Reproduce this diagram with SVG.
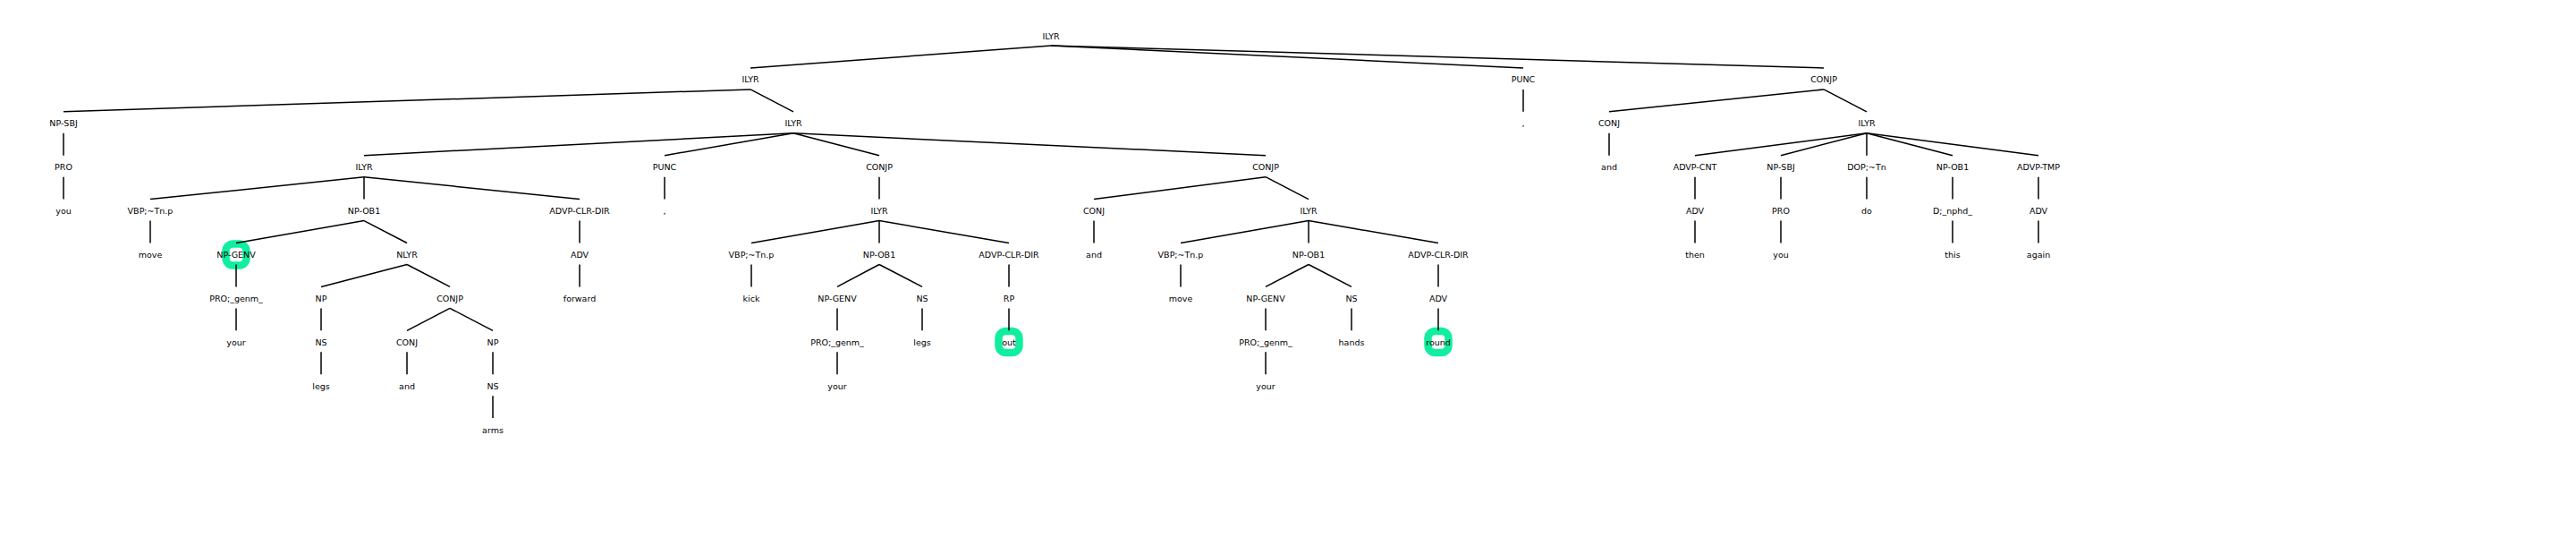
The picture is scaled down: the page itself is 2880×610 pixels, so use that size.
<svg xmlns="http://www.w3.org/2000/svg" width="2880" height="610" viewBox="0 0 2880 610">
<style>
text{font-family:"DejaVu Sans","Liberation Sans",sans-serif;font-size:9.5px;text-anchor:middle;fill:#000}
.e line{stroke:#000;stroke-width:1.5}
.hl{fill:none;stroke:#12eea0;stroke-width:8.5}
</style>
<rect width="2880" height="610" fill="#fff"/>
<g id="highlights">
<rect class="hl" x="252.5" y="272.5" width="23" height="24" rx="8"/>
<rect class="hl" x="1116.5" y="370" width="23" height="24" rx="8"/>
<rect class="hl" x="1596.5" y="370" width="23" height="24" rx="8"/>
</g>
<g id="connectors" class="e">
<line x1="1175" y1="51" x2="839" y2="75.9"/>
<line x1="1175" y1="51" x2="1703" y2="75.9"/>
<line x1="1175" y1="51" x2="2039" y2="75.9"/>
<line x1="839" y1="99.9" x2="71" y2="124.8"/>
<line x1="839" y1="99.9" x2="887" y2="124.8"/>
<line x1="1703" y1="99.9" x2="1703" y2="124.8"/>
<line x1="2039" y1="99.9" x2="1799" y2="124.8"/>
<line x1="2039" y1="99.9" x2="2087" y2="124.8"/>
<line x1="71" y1="148.8" x2="71" y2="173.7"/>
<line x1="887" y1="148.8" x2="407" y2="173.7"/>
<line x1="887" y1="148.8" x2="743" y2="173.7"/>
<line x1="887" y1="148.8" x2="983" y2="173.7"/>
<line x1="887" y1="148.8" x2="1415" y2="173.7"/>
<line x1="1799" y1="148.8" x2="1799" y2="173.7"/>
<line x1="2087" y1="148.8" x2="1895" y2="173.7"/>
<line x1="2087" y1="148.8" x2="1991" y2="173.7"/>
<line x1="2087" y1="148.8" x2="2087" y2="173.7"/>
<line x1="2087" y1="148.8" x2="2183" y2="173.7"/>
<line x1="2087" y1="148.8" x2="2279" y2="173.7"/>
<line x1="71" y1="197.7" x2="71" y2="222.6"/>
<line x1="407" y1="197.7" x2="168" y2="222.6"/>
<line x1="407" y1="197.7" x2="407" y2="222.6"/>
<line x1="407" y1="197.7" x2="648" y2="222.6"/>
<line x1="743" y1="197.7" x2="743" y2="222.6"/>
<line x1="983" y1="197.7" x2="983" y2="222.6"/>
<line x1="1415" y1="197.7" x2="1223" y2="222.6"/>
<line x1="1415" y1="197.7" x2="1463" y2="222.6"/>
<line x1="1895" y1="197.7" x2="1895" y2="222.6"/>
<line x1="1991" y1="197.7" x2="1991" y2="222.6"/>
<line x1="2087" y1="197.7" x2="2087" y2="222.6"/>
<line x1="2183" y1="197.7" x2="2183" y2="222.6"/>
<line x1="2279" y1="197.7" x2="2279" y2="222.6"/>
<line x1="168" y1="246.6" x2="168" y2="271.5"/>
<line x1="407" y1="246.6" x2="264" y2="271.5"/>
<line x1="407" y1="246.6" x2="455" y2="271.5"/>
<line x1="648" y1="246.6" x2="648" y2="271.5"/>
<line x1="983" y1="246.6" x2="840" y2="271.5"/>
<line x1="983" y1="246.6" x2="983" y2="271.5"/>
<line x1="983" y1="246.6" x2="1128" y2="271.5"/>
<line x1="1223" y1="246.6" x2="1223" y2="271.5"/>
<line x1="1463" y1="246.6" x2="1320" y2="271.5"/>
<line x1="1463" y1="246.6" x2="1463" y2="271.5"/>
<line x1="1463" y1="246.6" x2="1608" y2="271.5"/>
<line x1="1895" y1="246.6" x2="1895" y2="271.5"/>
<line x1="1991" y1="246.6" x2="1991" y2="271.5"/>
<line x1="2183" y1="246.6" x2="2183" y2="271.5"/>
<line x1="2279" y1="246.6" x2="2279" y2="271.5"/>
<line x1="264" y1="295.5" x2="264" y2="320.4"/>
<line x1="455" y1="295.5" x2="359" y2="320.4"/>
<line x1="455" y1="295.5" x2="503" y2="320.4"/>
<line x1="648" y1="295.5" x2="648" y2="320.4"/>
<line x1="840" y1="295.5" x2="840" y2="320.4"/>
<line x1="983" y1="295.5" x2="936" y2="320.4"/>
<line x1="983" y1="295.5" x2="1031" y2="320.4"/>
<line x1="1128" y1="295.5" x2="1128" y2="320.4"/>
<line x1="1320" y1="295.5" x2="1320" y2="320.4"/>
<line x1="1463" y1="295.5" x2="1415" y2="320.4"/>
<line x1="1463" y1="295.5" x2="1511" y2="320.4"/>
<line x1="1608" y1="295.5" x2="1608" y2="320.4"/>
<line x1="264" y1="344.4" x2="264" y2="369.3"/>
<line x1="359" y1="344.4" x2="359" y2="369.3"/>
<line x1="503" y1="344.4" x2="455" y2="369.3"/>
<line x1="503" y1="344.4" x2="551" y2="369.3"/>
<line x1="936" y1="344.4" x2="936" y2="369.3"/>
<line x1="1031" y1="344.4" x2="1031" y2="369.3"/>
<line x1="1128" y1="344.4" x2="1128" y2="369.3"/>
<line x1="1415" y1="344.4" x2="1415" y2="369.3"/>
<line x1="1511" y1="344.4" x2="1511" y2="369.3"/>
<line x1="1608" y1="344.4" x2="1608" y2="369.3"/>
<line x1="359" y1="393.3" x2="359" y2="418.2"/>
<line x1="455" y1="393.3" x2="455" y2="418.2"/>
<line x1="551" y1="393.3" x2="551" y2="418.2"/>
<line x1="936" y1="393.3" x2="936" y2="418.2"/>
<line x1="1415" y1="393.3" x2="1415" y2="418.2"/>
<line x1="551" y1="442.2" x2="551" y2="467.1"/>
</g>
<g id="n0"><text x="1175" y="43.5">ILYR</text></g>
<g id="n1"><text x="839" y="92.4">ILYR</text></g>
<g id="n2"><text x="1703" y="92.4">PUNC</text></g>
<g id="n3"><text x="2039" y="92.4">CONJP</text></g>
<g id="n4"><text x="71" y="141.3">NP-SBJ</text></g>
<g id="n5"><text x="887" y="141.3">ILYR</text></g>
<g id="n6"><text x="1703" y="141.3">,</text></g>
<g id="n7"><text x="1799" y="141.3">CONJ</text></g>
<g id="n8"><text x="2087" y="141.3">ILYR</text></g>
<g id="n9"><text x="71" y="190.2">PRO</text></g>
<g id="n10"><text x="407" y="190.2">ILYR</text></g>
<g id="n11"><text x="743" y="190.2">PUNC</text></g>
<g id="n12"><text x="983" y="190.2">CONJP</text></g>
<g id="n13"><text x="1415" y="190.2">CONJP</text></g>
<g id="n14"><text x="1799" y="190.2">and</text></g>
<g id="n15"><text x="1895" y="190.2">ADVP-CNT</text></g>
<g id="n16"><text x="1991" y="190.2">NP-SBJ</text></g>
<g id="n17"><text x="2087" y="190.2">DOP;~Tn</text></g>
<g id="n18"><text x="2183" y="190.2">NP-OB1</text></g>
<g id="n19"><text x="2279" y="190.2">ADVP-TMP</text></g>
<g id="n20"><text x="71" y="239.1">you</text></g>
<g id="n21"><text x="168" y="239.1">VBP;~Tn.p</text></g>
<g id="n22"><text x="407" y="239.1">NP-OB1</text></g>
<g id="n23"><text x="648" y="239.1">ADVP-CLR-DIR</text></g>
<g id="n24"><text x="743" y="239.1">,</text></g>
<g id="n25"><text x="983" y="239.1">ILYR</text></g>
<g id="n26"><text x="1223" y="239.1">CONJ</text></g>
<g id="n27"><text x="1463" y="239.1">ILYR</text></g>
<g id="n28"><text x="1895" y="239.1">ADV</text></g>
<g id="n29"><text x="1991" y="239.1">PRO</text></g>
<g id="n30"><text x="2087" y="239.1">do</text></g>
<g id="n31"><text x="2183" y="239.1">D;_nphd_</text></g>
<g id="n32"><text x="2279" y="239.1">ADV</text></g>
<g id="n33"><text x="168" y="288">move</text></g>
<g id="n34"><text x="264" y="288">NP-GENV</text></g>
<g id="n35"><text x="455" y="288">NLYR</text></g>
<g id="n36"><text x="648" y="288">ADV</text></g>
<g id="n37"><text x="840" y="288">VBP;~Tn.p</text></g>
<g id="n38"><text x="983" y="288">NP-OB1</text></g>
<g id="n39"><text x="1128" y="288">ADVP-CLR-DIR</text></g>
<g id="n40"><text x="1223" y="288">and</text></g>
<g id="n41"><text x="1320" y="288">VBP;~Tn.p</text></g>
<g id="n42"><text x="1463" y="288">NP-OB1</text></g>
<g id="n43"><text x="1608" y="288">ADVP-CLR-DIR</text></g>
<g id="n44"><text x="1895" y="288">then</text></g>
<g id="n45"><text x="1991" y="288">you</text></g>
<g id="n46"><text x="2183" y="288">this</text></g>
<g id="n47"><text x="2279" y="288">again</text></g>
<g id="n48"><text x="264" y="336.9">PRO;_genm_</text></g>
<g id="n49"><text x="359" y="336.9">NP</text></g>
<g id="n50"><text x="503" y="336.9">CONJP</text></g>
<g id="n51"><text x="648" y="336.9">forward</text></g>
<g id="n52"><text x="840" y="336.9">kick</text></g>
<g id="n53"><text x="936" y="336.9">NP-GENV</text></g>
<g id="n54"><text x="1031" y="336.9">NS</text></g>
<g id="n55"><text x="1128" y="336.9">RP</text></g>
<g id="n56"><text x="1320" y="336.9">move</text></g>
<g id="n57"><text x="1415" y="336.9">NP-GENV</text></g>
<g id="n58"><text x="1511" y="336.9">NS</text></g>
<g id="n59"><text x="1608" y="336.9">ADV</text></g>
<g id="n60"><text x="264" y="385.8">your</text></g>
<g id="n61"><text x="359" y="385.8">NS</text></g>
<g id="n62"><text x="455" y="385.8">CONJ</text></g>
<g id="n63"><text x="551" y="385.8">NP</text></g>
<g id="n64"><text x="936" y="385.8">PRO;_genm_</text></g>
<g id="n65"><text x="1031" y="385.8">legs</text></g>
<g id="n66"><text x="1128" y="385.8">out</text></g>
<g id="n67"><text x="1415" y="385.8">PRO;_genm_</text></g>
<g id="n68"><text x="1511" y="385.8">hands</text></g>
<g id="n69"><text x="1608" y="385.8">round</text></g>
<g id="n70"><text x="359" y="434.7">legs</text></g>
<g id="n71"><text x="455" y="434.7">and</text></g>
<g id="n72"><text x="551" y="434.7">NS</text></g>
<g id="n73"><text x="936" y="434.7">your</text></g>
<g id="n74"><text x="1415" y="434.7">your</text></g>
<g id="n75"><text x="551" y="483.6">arms</text></g>
</svg>
